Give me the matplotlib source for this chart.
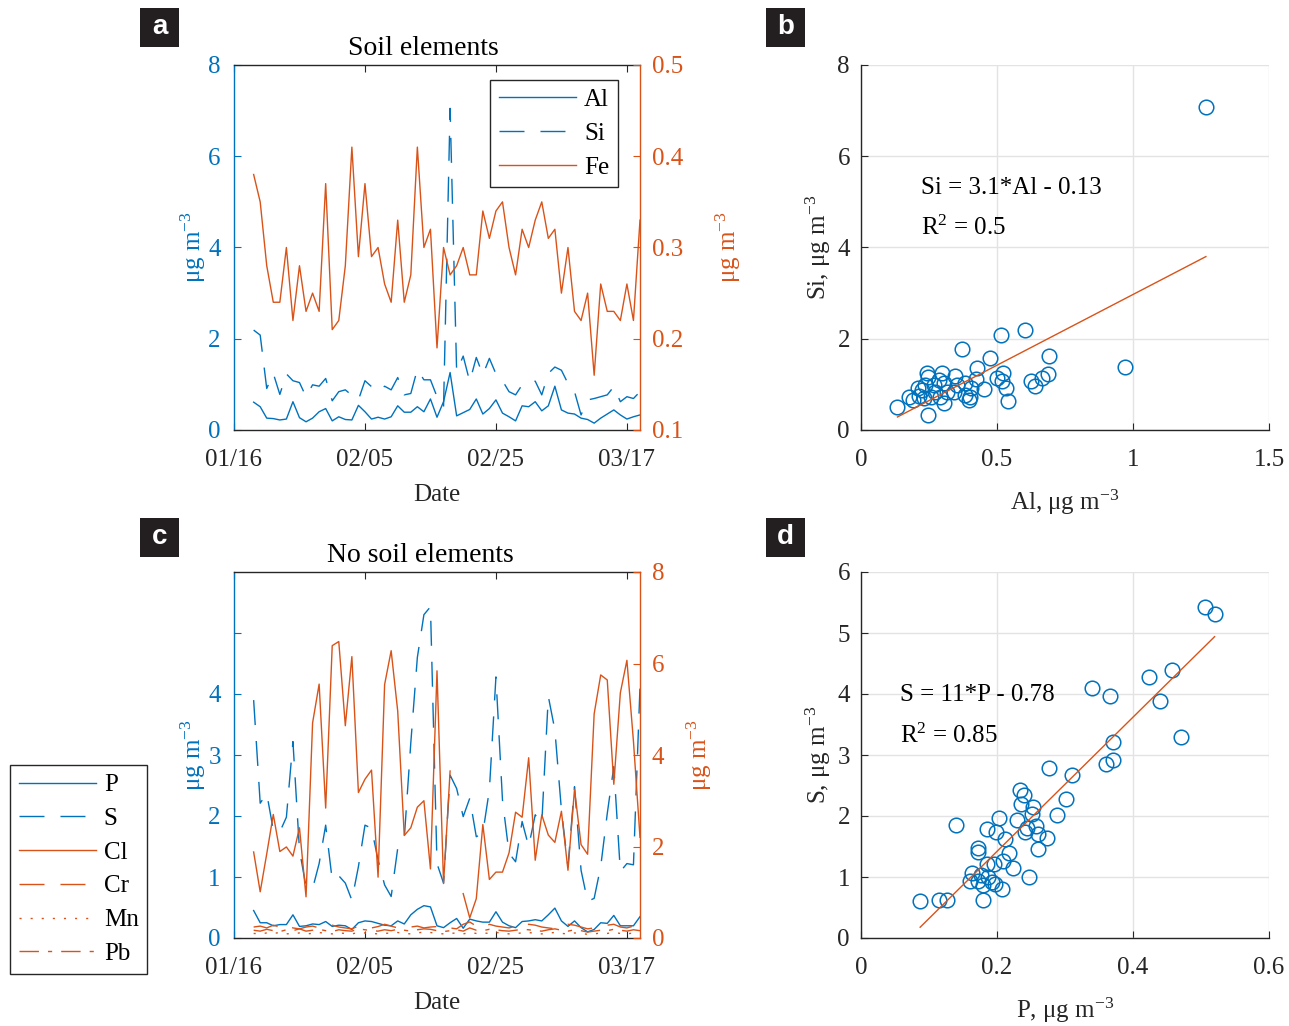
import numpy as np
import matplotlib
matplotlib.use('Agg')
import matplotlib.pyplot as plt
import matplotlib.dates as mdates
from matplotlib.patches import Rectangle

plt.rcParams['font.family'] = ['Liberation Serif', 'DejaVu Serif']
plt.rcParams['mathtext.fontset'] = 'custom'
plt.rcParams['mathtext.rm'] = 'Liberation Serif'
plt.rcParams['mathtext.it'] = 'Liberation Serif:italic'
plt.rcParams['font.size'] = 18
plt.rcParams['xtick.direction'] = 'in'
plt.rcParams['ytick.direction'] = 'in'

BLUE = '#0072BD'
ORANGE = '#D95319'
DARK = '#262626'
GRID = '#e3e3e3'

# daily samples 01/19 .. 03/19
dates = np.arange(np.datetime64('2017-01-19'), np.datetime64('2017-03-20'))
tick_dates = np.array(['2017-01-16', '2017-02-05', '2017-02-25', '2017-03-17'], dtype='datetime64[D]')
date_lim = np.array(['2017-01-16', '2017-03-19'], dtype='datetime64[D]')

# ---- soil elements (ug m-3)
al = [0.61, 0.51, 0.26, 0.25, 0.22, 0.24, 0.62, 0.27, 0.18, 0.26,
      0.40, 0.47, 0.20, 0.29, 0.23, 0.22, 0.54, 0.40, 0.24, 0.28,
      0.24, 0.29, 0.53, 0.39, 0.39, 0.51, 0.40, 0.68, 0.28, 0.62,
      1.26, 0.31, 0.38, 0.45, 0.68, 0.35, 0.47, 0.66, 0.37, 0.29,
      0.20, 0.53, 0.51, 0.62, 0.42, 0.53, 0.96, 0.44, 0.37, 0.35,
      0.26, 0.23, 0.15, 0.26, 0.35, 0.44, 0.33, 0.24, 0.29, 0.33]
si = [2.19, 2.08, 0.91, 1.24, 0.78, 1.23, 1.08, 1.04, 0.73, 0.99,
      0.96, 1.13, 0.64, 0.84, 0.88, 0.76, 0.66, 1.08, 0.95, 0.84,
      0.96, 0.88, 1.15, 0.77, 0.80, 1.33, 1.10, 1.10, 0.73, 0.50,
      7.05, 1.28, 1.62, 1.06, 1.59, 1.21, 1.57, 1.23, 1.08, 0.84,
      0.77, 0.99, 1.06, 1.07, 0.77, 1.24, 1.38, 1.31, 1.02, 0.84,
      0.33, 0.66, 0.69, 0.73, 0.77, 0.95, 0.62, 0.73, 0.69, 0.84]
fe = [0.38, 0.35, 0.28, 0.24, 0.24, 0.30, 0.22, 0.28, 0.23, 0.25,
      0.23, 0.37, 0.21, 0.22, 0.28, 0.41, 0.29, 0.37, 0.29, 0.30,
      0.26, 0.24, 0.33, 0.24, 0.27, 0.41, 0.30, 0.32, 0.19, 0.30,
      0.27, 0.28, 0.30, 0.27, 0.27, 0.34, 0.31, 0.34, 0.35, 0.30,
      0.27, 0.32, 0.30, 0.33, 0.35, 0.31, 0.32, 0.25, 0.30, 0.23,
      0.22, 0.25, 0.16, 0.26, 0.23, 0.23, 0.22, 0.26, 0.22, 0.33]

# ---- non-soil elements
p = [0.45, 0.25, 0.25, 0.20, 0.22, 0.22, 0.38, 0.19, 0.20, 0.23,
     0.22, 0.27, 0.19, 0.21, 0.20, 0.14, 0.25, 0.28, 0.27, 0.24,
     0.21, 0.20, 0.28, 0.23, 0.38, 0.47, 0.53, 0.51, 0.20, 0.17,
     0.25, 0.32, 0.16, 0.31, 0.28, 0.26, 0.26, 0.43, 0.26, 0.20,
     0.17, 0.27, 0.28, 0.30, 0.28, 0.38, 0.49, 0.28, 0.19, 0.28,
     0.17, 0.10, 0.14, 0.25, 0.24, 0.37, 0.20, 0.20, 0.20, 0.35]
s = [3.90, 2.21, 2.37, 1.77, 1.74, 1.98, 3.22, 1.44, 0.84, 0.81,
     1.22, 1.85, 0.95, 1.02, 0.90, 0.62, 1.17, 1.85, 1.80, 1.28,
     0.87, 0.68, 1.47, 1.63, 3.20, 4.60, 5.30, 5.43, 1.22, 0.90,
     2.67, 2.45, 1.99, 2.29, 1.66, 1.72, 2.43, 4.28, 2.26, 1.39,
     1.25, 1.91, 1.50, 2.02, 1.88, 3.96, 3.41, 2.10, 1.17, 2.48,
     1.11, 0.60, 0.65, 1.17, 2.04, 2.81, 1.09, 1.22, 1.20, 4.12]
cl = [1.88, 1.01, 1.84, 2.70, 1.89, 1.99, 1.79, 2.41, 0.90, 4.70,
      5.55, 2.84, 6.39, 6.48, 4.64, 6.15, 3.18, 3.47, 3.67, 1.33,
      5.54, 6.28, 4.96, 2.24, 2.41, 2.86, 3.00, 1.51, 5.84, 1.19,
      3.65, np.nan, 0.97, 0.44, 0.86, 2.48, 1.28, 1.44, 1.44, 1.86,
      2.75, 2.64, 3.94, 1.70, 2.69, 2.25, 2.09, 2.77, 1.48, 3.25,
      2.04, 1.83, 4.90, 5.75, 5.64, 3.36, 5.36, 6.07, 4.30, 2.20]
cr = [0.24, 0.26, 0.22, 0.28, 0.24, 0.30, 0.22, 0.20, 0.24, 0.26,
      0.22, 0.25, 0.28, 0.24, 0.22, 0.20, 0.26, 0.24, 0.22, 0.25,
      0.30, 0.26, 0.22, 0.20, 0.24, 0.26, 0.22, 0.24, 0.25, 0.28,
      0.22, 0.20, 0.30, 0.35, 0.26, 0.22, 0.30, 0.26, 0.24, 0.22,
      0.26, 0.24, 0.30, 0.28, 0.24, 0.22, 0.20, 0.26, 0.30, 0.28,
      0.24, 0.20, 0.22, 0.26, 0.28, 0.30, 0.24, 0.22, 0.26, 0.24]
mn = [0.10, 0.09, 0.11, 0.10, 0.12, 0.09, 0.10, 0.11, 0.09, 0.10,
      0.12, 0.10, 0.09, 0.11, 0.10, 0.09, 0.12, 0.11, 0.10, 0.09,
      0.10, 0.11, 0.12, 0.10, 0.09, 0.11, 0.13, 0.12, 0.10, 0.09,
      0.10, 0.11, 0.09, 0.12, 0.10, 0.11, 0.10, 0.12, 0.11, 0.09,
      0.10, 0.11, 0.12, 0.10, 0.09, 0.11, 0.12, 0.10, 0.09, 0.11,
      0.10, 0.08, 0.09, 0.11, 0.10, 0.12, 0.10, 0.09, 0.11, 0.10]
pb = [0.17, 0.15, 0.19, 0.16, 0.14, 0.18, 0.16, 0.20, 0.15, 0.17,
      0.19, 0.16, 0.14, 0.18, 0.16, 0.15, 0.20, 0.18, 0.16, 0.15,
      0.18, 0.16, 0.19, 0.17, 0.15, 0.18, 0.20, 0.19, 0.16, 0.14,
      0.16, 0.18, 0.15, 0.22, 0.17, 0.16, 0.19, 0.18, 0.16, 0.15,
      0.17, 0.19, 0.18, 0.16, 0.15, 0.18, 0.20, 0.17, 0.15, 0.18,
      0.16, 0.13, 0.15, 0.17, 0.16, 0.19, 0.17, 0.15, 0.18, 0.16]

# ---- scatter b: Si vs Al
sc_al = [0.134, 0.246, 0.304, 0.372, 0.515, 0.604, 0.690, 0.686, 0.665, 0.624,
         0.639, 0.969, 0.539, 0.532, 0.522, 0.517, 0.499, 0.473, 0.426, 0.424,
         0.452, 0.406, 0.384, 0.402, 0.382, 0.347, 0.353, 0.341, 0.298, 0.304,
         0.316, 0.292, 0.242, 0.248, 0.236, 0.224, 0.268, 0.273, 0.259, 0.212,
         0.175, 0.193, 0.230, 0.209, 0.286, 0.396, 1.268]
sc_si = [0.51, 0.33, 0.59, 1.77, 2.09, 2.20, 1.63, 1.23, 1.14, 1.08,
         0.97, 1.38, 0.64, 0.92, 1.26, 1.08, 1.14, 1.58, 1.36, 1.11,
         0.89, 0.92, 0.77, 0.73, 1.03, 1.19, 0.99, 0.84, 1.25, 1.03,
         0.84, 0.73, 1.26, 1.16, 0.99, 0.88, 0.99, 0.84, 0.73, 0.75,
         0.73, 0.66, 0.70, 0.92, 1.10, 0.66, 7.08]
fit_b = (3.1, -0.13)

# ---- scatter d: S vs P
sc_p = [0.506, 0.520, 0.458, 0.424, 0.440, 0.470, 0.340, 0.366, 0.370, 0.361,
        0.371, 0.277, 0.311, 0.302, 0.288, 0.234, 0.239, 0.236, 0.253, 0.251,
        0.229, 0.203, 0.140, 0.185, 0.198, 0.244, 0.258, 0.241, 0.261, 0.274,
        0.212, 0.260, 0.172, 0.172, 0.217, 0.209, 0.185, 0.195, 0.223, 0.163,
        0.177, 0.187, 0.160, 0.172, 0.192, 0.179, 0.197, 0.247, 0.208, 0.179,
        0.087, 0.114, 0.126]
sc_s = [5.42, 5.31, 4.39, 4.28, 3.89, 3.30, 4.10, 3.96, 3.22, 2.86,
        2.92, 2.78, 2.67, 2.28, 2.01, 2.43, 2.34, 2.19, 2.14, 2.03,
        1.93, 1.96, 1.85, 1.78, 1.74, 1.81, 1.84, 1.73, 1.70, 1.64,
        1.62, 1.46, 1.48, 1.41, 1.40, 1.26, 1.21, 1.21, 1.14, 1.07,
        1.04, 1.00, 0.93, 0.93, 0.91, 0.87, 0.88, 1.00, 0.80, 0.62,
        0.60, 0.62, 0.62]
fit_d = (11, -0.78)

W, H = 1289, 1026
fig = plt.figure(figsize=(W / 100, H / 100), dpi=100)


def fig_rect(x0, y0, x1, y1):
    return [x0 / W, 1 - y1 / H, (x1 - x0) / W, (y1 - y0) / H]


def time_axes(rect, lylim, lticks, lticklabels, rylim, rticks, title, title_x, rpad):
    ax = fig.add_axes(rect)
    ax2 = ax.twinx()
    ax.set_xlim(date_lim[0], date_lim[1])
    ax.set_xticks(tick_dates)
    ax.xaxis.set_major_formatter(mdates.DateFormatter('%m/%d'))
    ax.tick_params(axis='x', colors=DARK, top=True, length=5, pad=14, labelsize=18)
    ax.set_ylim(*lylim)
    ax.set_yticks(lticks)
    ax.set_yticklabels(lticklabels)
    ax.tick_params(axis='y', colors=BLUE, length=5, pad=9.5, labelsize=18)
    ax2.set_ylim(*rylim)
    ax2.set_yticks(rticks)
    ax2.tick_params(axis='y', colors=ORANGE, length=5, pad=8.5, labelsize=18)
    for a in (ax, ax2):
        for sp in a.spines.values():
            sp.set_linewidth(1.0)
    ax.spines['left'].set_color(BLUE)
    ax.spines['right'].set_visible(False)
    ax.spines['top'].set_color(DARK)
    ax.spines['bottom'].set_color(DARK)
    ax2.spines['left'].set_visible(False)
    ax2.spines['top'].set_visible(False)
    ax2.spines['bottom'].set_visible(False)
    ax2.spines['right'].set_color(ORANGE)
    ax.set_xlabel('Date', color=DARK, labelpad=9)
    ax.set_ylabel('μg m$^{-3}$', color=BLUE, labelpad=0)
    ax2.set_ylabel('μg m$^{-3}$', color=ORANGE, labelpad=rpad)
    ax.set_title(title, x=title_x, pad=7, color='black', fontsize=20)
    return ax, ax2


lw = 1.0
dash = (0, (18, 11.5))
dots = (0, (1.5, 6.5))
dashdot = (0, (14, 6.5, 3, 6.5))

leg_kw = dict(fancybox=False, edgecolor=DARK, framealpha=1, handlelength=3.1,
              handletextpad=0.3, labelspacing=0.45, borderpad=0.35,
              borderaxespad=0, fontsize=18)

# ---------------- panel a
ax_a, ax_a2 = time_axes(fig_rect(234, 65, 640, 430), (0, 8), [0, 2, 4, 6, 8],
                        ['0', '2', '4', '6', '8'], (0.1, 0.5),
                        [0.1, 0.2, 0.3, 0.4, 0.5], 'Soil elements', 0.466, 22)
h_al, = ax_a.plot(dates, al, color=BLUE, lw=lw, label='Al')
h_si, = ax_a.plot(dates, si, color=BLUE, lw=lw, ls=dash, label='Si')
h_fe, = ax_a2.plot(dates, fe, color=ORANGE, lw=lw, label='Fe')
ax_a2.legend(handles=[h_al, h_si, h_fe], loc='upper left',
             bbox_to_anchor=(0.631, 0.959), **leg_kw)

# ---------------- panel c
ax_c, ax_c2 = time_axes(fig_rect(234, 572, 640, 938), (0, 6), [0, 1, 2, 3, 4, 5],
                        ['0', '1', '2', '3', '4', ''], (0, 8),
                        [0, 2, 4, 6, 8], 'No soil elements', 0.459, 15)
h_p, = ax_c.plot(dates, p, color=BLUE, lw=lw, label='P')
h_s, = ax_c.plot(dates, s, color=BLUE, lw=lw, ls=dash, label='S')
h_cl, = ax_c2.plot(dates, cl, color=ORANGE, lw=lw, label='Cl')
h_cr, = ax_c2.plot(dates, cr, color=ORANGE, lw=lw, ls=dash, label='Cr')
h_mn, = ax_c2.plot(dates, mn, color=ORANGE, lw=lw, ls=dots, label='Mn')
h_pb, = ax_c2.plot(dates, pb, color=ORANGE, lw=lw, ls=dashdot, label='Pb')
fig.legend(handles=[h_p, h_s, h_cl, h_cr, h_mn, h_pb], loc='upper left',
           bbox_to_anchor=(10 / W, 1 - 765 / H), **leg_kw)


# ---------------- scatter panels
def scatter_axes(rect, xlim, xticks, xticklabels, ylim, yticks):
    ax = fig.add_axes(rect)
    ax.set_xlim(*xlim)
    ax.set_ylim(*ylim)
    ax.set_xticks(xticks)
    ax.set_xticklabels(xticklabels)
    ax.set_yticks(yticks)
    ax.grid(True, color=GRID, lw=1.0)
    ax.set_axisbelow(True)
    ax.tick_params(colors=DARK, length=5, labelsize=18)
    ax.tick_params(axis='x', pad=14)
    ax.tick_params(axis='y', pad=8)
    for sp in ax.spines.values():
        sp.set_color(DARK)
        sp.set_linewidth(1.0)
    ax.spines['top'].set_visible(False)
    ax.spines['right'].set_visible(False)
    return ax


ax_b = scatter_axes(fig_rect(861, 65, 1269, 430), (0, 1.5), [0, 0.5, 1, 1.5],
                    ['0', '0.5', '1', '1.5'], (0, 8), [0, 2, 4, 6, 8])
ax_b.plot(sc_al, sc_si, 'o', ms=10.5, mfc='none', mec=BLUE, mew=1.1)
xb = np.array([min(sc_al), max(sc_al)])
ax_b.plot(xb, fit_b[0] * xb + fit_b[1], color=ORANGE, lw=1.0)
ax_b.text(0.22, 5.3, 'Si = 3.1*Al - 0.13', fontsize=18, va='center')
ax_b.text(0.22, 4.43, 'R$^{2}$ = 0.5', fontsize=18, va='center')
ax_b.set_xlabel('Al, μg m$^{-3}$', color=DARK, labelpad=12)
ax_b.set_ylabel('Si, μg m$^{-3}$', color=DARK, labelpad=3)

ax_d = scatter_axes(fig_rect(861, 572, 1269, 938), (0, 0.6), [0, 0.2, 0.4, 0.6],
                    ['0', '0.2', '0.4', '0.6'], (0, 6), [0, 1, 2, 3, 4, 5, 6])
ax_d.plot(sc_p, sc_s, 'o', ms=10.5, mfc='none', mec=BLUE, mew=1.1)
xd = np.array([min(sc_p), max(sc_p)])
ax_d.plot(xd, fit_d[0] * xd + fit_d[1], color=ORANGE, lw=1.0)
ax_d.text(0.057, 3.98, 'S = 11*P - 0.78', fontsize=18, va='center')
ax_d.text(0.057, 3.31, 'R$^{2}$ = 0.85', fontsize=18, va='center')
ax_d.set_xlabel('P, μg m$^{-3}$', color=DARK, labelpad=12)
ax_d.set_ylabel('S, μg m$^{-3}$', color=DARK, labelpad=3)

# ---------------- panel letters
for letter, (x0, y0) in zip(['a', 'b', 'c', 'd'],
                            [(140, 8), (766, 8), (140, 518), (766, 518)]):
    fig.patches.append(Rectangle((x0 / W, 1 - (y0 + 39) / H), 39 / W, 39 / H,
                                 transform=fig.transFigure, fc='#231f20', ec='none'))
    fig.text((x0 + 19.5) / W, 1 - (y0 + 19.5) / H, letter, color='white',
             fontsize=20, fontweight='bold', family='Liberation Sans',
             ha='center', va='center')

fig.savefig('out.png', dpi=100)
